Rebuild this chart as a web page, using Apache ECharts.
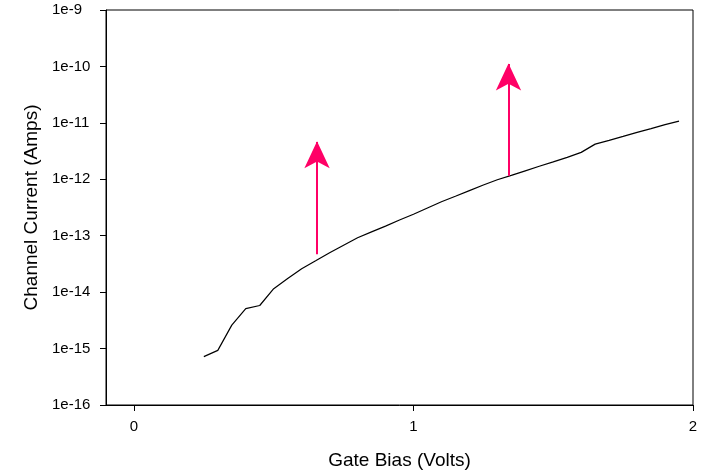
<!DOCTYPE html>
<html>
<head>
<meta charset="utf-8">
<script src="https://cdn.jsdelivr.net/npm/echarts@6/dist/echarts.min.js"></script>
<style>
  html, body { margin: 0; padding: 0; background: #fff; }
  #chart { width: 702px; height: 475px; }
</style>
</head>
<body>
<div id="chart"></div>
<script>
// gate bias (V) and channel current (A)
const biasV = [0.25, 0.30, 0.35, 0.40, 0.45, 0.50, 0.55, 0.60, 0.65, 0.70,
  0.75, 0.80, 0.85, 0.90, 0.95, 1.00, 1.05, 1.10, 1.15, 1.20,
  1.25, 1.30, 1.35, 1.40, 1.45, 1.50, 1.55, 1.60, 1.65, 1.70,
  1.75, 1.80, 1.85, 1.90, 1.95]
const currentA = [7.2e-16, 9.3e-16, 2.6e-15, 5.1e-15, 5.8e-15, 1.15e-14, 1.74e-14, 2.6e-14, 3.6e-14, 5.0e-14,
  6.8e-14, 9.2e-14, 1.17e-13, 1.48e-13, 1.9e-13, 2.4e-13, 3.1e-13, 4.0e-13, 5.0e-13, 6.3e-13,
  7.9e-13, 9.8e-13, 1.17e-12, 1.41e-12, 1.7e-12, 2.04e-12, 2.45e-12, 3.0e-12, 4.2e-12, 4.9e-12,
  5.75e-12, 6.8e-12, 7.9e-12, 9.3e-12, 1.07e-11]

// the two pink arrows
const arrowX = [0.655, 1.34]
const arrowFrom = [4.7e-14, 1.15e-12]
const arrowTo = [4.6e-12, 1.1e-10]

const xTicks = [0, 1, 2]

let lineData = biasV.map((v, i) => [v, currentA[i]])
let arrowLines = arrowX.map((x, i) => [
  {coord: [x, arrowFrom[i]]},
  {coord: [x, arrowTo[i]]}
])

let textFont = 'Liberation Sans, Arial, sans-serif'

let option = {
  animation: false,
  backgroundColor: '#fff',
  grid: {
    left: 106,
    right: 9,
    top: 10,
    bottom: 69,
    show: true,
    borderColor: '#000',
    borderWidth: 1
  },
  xAxis: {
    type: 'value',
    min: -0.1,
    max: 2,
    name: 'Gate Bias (Volts)',
    nameLocation: 'middle',
    nameGap: 46,
    nameTextStyle: {color: '#000', fontSize: 19, fontFamily: textFont},
    axisLine: {onZero: false, lineStyle: {color: '#000', width: 1}},
    axisTick: {show: true, length: 6, customValues: xTicks, lineStyle: {color: '#000'}},
    axisLabel: {customValues: xTicks, color: '#000', fontSize: 15, fontFamily: textFont, margin: 14},
    splitLine: {show: false}
  },
  yAxis: {
    type: 'log',
    logBase: 10,
    min: 1e-16,
    max: 1e-9,
    name: 'Channel Current (Amps)',
    nameLocation: 'middle',
    nameGap: 62,
    nameTextStyle: {color: '#000', fontSize: 19, fontFamily: textFont},
    axisLine: {show: true, onZero: false, lineStyle: {color: '#000', width: 1}},
    axisTick: {show: true, length: 6, lineStyle: {color: '#000'}},
    axisLabel: {
      color: '#000',
      fontSize: 15,
      fontFamily: textFont,
      align: 'left',
      margin: 54,
      formatter: function (v) {
        return '1e' + Math.round(Math.log10(v))
      }
    },
    splitLine: {show: false},
    minorTick: {show: false}
  },
  series: [
    {
      name: 'current',
      type: 'line',
      data: lineData,
      symbol: 'none',
      lineStyle: {color: '#000', width: 1.2}
    },
    {
      name: 'arrows',
      type: 'line',
      data: [],
      markLine: {
        silent: true,
        symbol: ['none', 'arrow'],
        symbolSize: [19, 27],
        symbolOffset: [0, [0, '-2%']],
        label: {show: false},
        lineStyle: {color: '#ff0066', width: 2, type: 'solid'},
        itemStyle: {color: '#ff0066'},
        data: arrowLines
      }
    }
  ]
}

let myChart = echarts.init(document.getElementById('chart'))
myChart.setOption(option)
</script>
</body>
</html>
